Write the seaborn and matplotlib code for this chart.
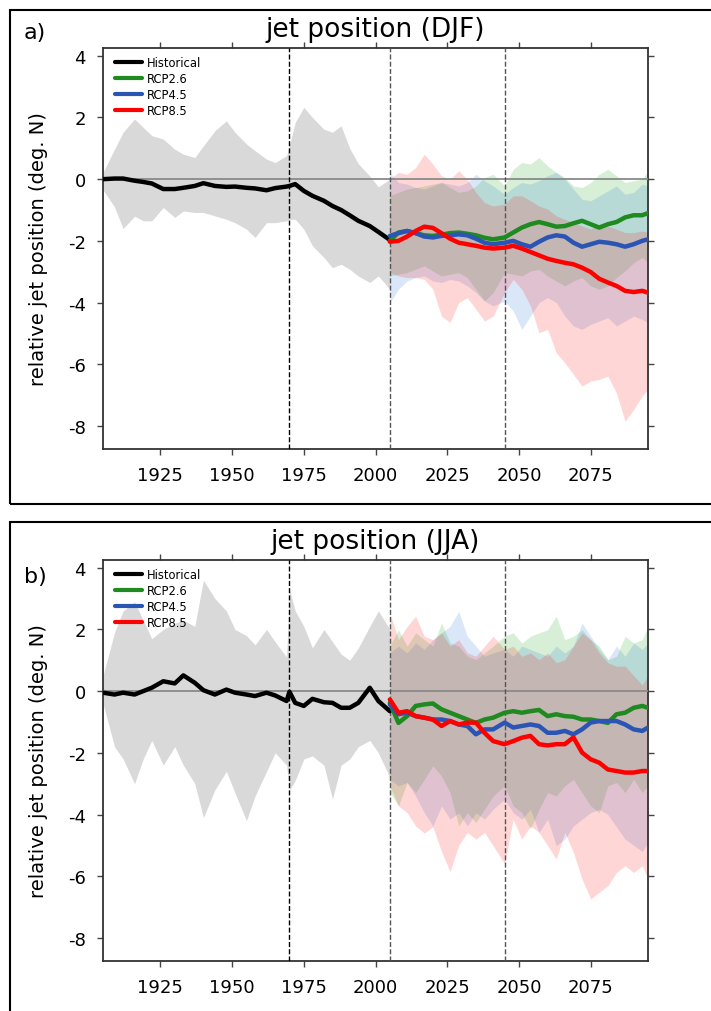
import matplotlib.pyplot as plt
from matplotlib.lines import Line2D
from matplotlib.patches import Rectangle
import seaborn as sns

# ==========================================
# DATA
# ==========================================
hist_years = [1905, 1909, 1912, 1916, 1919, 1922, 1926, 1930, 1933, 1937,
              1940, 1944, 1948, 1951, 1955, 1958, 1962, 1965, 1969, 1970,
              1972, 1975, 1978, 1982, 1985, 1988, 1991, 1994, 1998, 2001, 2005]

scen_years = [2005, 2008, 2011, 2014, 2017, 2020, 2023, 2026, 2029, 2032,
              2035, 2038, 2041, 2045, 2048, 2051, 2054, 2057, 2060, 2063,
              2066, 2069, 2072, 2075, 2078, 2081, 2084, 2087, 2090, 2093, 2095]

# --- DJF ---
djf_hist = [0.0, 0.02, 0.02, -0.05, -0.09, -0.14, -0.32, -0.32, -0.28, -0.22,
            -0.13, -0.22, -0.25, -0.24, -0.28, -0.30, -0.36, -0.29, -0.24, -0.22,
            -0.16, -0.38, -0.54, -0.70, -0.87, -1.00, -1.17, -1.35, -1.52, -1.71, -1.97]
djf_hist_hi = [0.22, 0.97, 1.52, 1.95, 1.68, 1.41, 1.30, 0.97, 0.81, 0.70,
               1.08, 1.57, 1.89, 1.52, 1.14, 0.92, 0.65, 0.54, 0.76, 1.10,
               1.84, 2.33, 2.00, 1.62, 1.52, 1.73, 1.00, 0.50, 0.10, -0.25, 0.0]
djf_hist_lo = [-0.35, -0.90, -1.60, -1.20, -1.35, -1.35, -0.92, -1.24, -1.03, -1.08,
               -1.08, -1.19, -1.30, -1.41, -1.62, -1.89, -1.41, -1.41, -1.35, -1.30,
               -1.30, -1.62, -2.16, -2.54, -2.87, -2.76, -2.92, -3.14, -3.35, -3.14, -3.57]

djf_rcp26 = [-2.00, -1.73, -1.68, -1.75, -1.82, -1.84, -1.80, -1.75, -1.73, -1.77,
             -1.82, -1.90, -1.95, -1.89, -1.73, -1.57, -1.46, -1.39, -1.46, -1.54,
             -1.52, -1.43, -1.35, -1.46, -1.57, -1.46, -1.39, -1.24, -1.17, -1.17, -1.10]
djf_rcp45 = [-1.84, -1.75, -1.68, -1.75, -1.86, -1.89, -1.84, -1.82, -1.79, -1.82,
             -1.93, -2.06, -2.11, -2.06, -2.00, -2.11, -2.19, -2.03, -1.89, -1.82,
             -1.86, -2.06, -2.19, -2.11, -2.03, -2.06, -2.11, -2.19, -2.11, -2.00, -1.95]
djf_rcp85 = [-2.03, -2.00, -1.86, -1.68, -1.54, -1.58, -1.75, -1.93, -2.06, -2.11,
             -2.16, -2.22, -2.25, -2.22, -2.16, -2.25, -2.36, -2.47, -2.58, -2.65,
             -2.71, -2.76, -2.87, -3.01, -3.23, -3.35, -3.46, -3.62, -3.66, -3.62, -3.68]

djf_rcp26_hi = [-0.54, -0.43, -0.32, -0.27, -0.22, -0.16, -0.11, -0.27, -0.43, -0.38,
                -0.22, 0.05, 0.16, -0.22, 0.32, 0.54, 0.49, 0.70, 0.43, 0.22,
                0.05, -0.22, -0.27, -0.11, 0.16, 0.32, 0.11, -0.11, -0.05, 0.00, 0.27]
djf_rcp45_hi = [0.22, -0.11, -0.16, -0.27, -0.32, -0.22, -0.11, -0.16, -0.22, -0.11,
                0.16, -0.05, -0.22, -0.49, -0.27, -0.11, -0.16, -0.05, 0.11, 0.22,
                0.00, -0.32, -0.65, -0.70, -0.54, -0.38, -0.22, -0.49, -0.43, -0.16, -0.22]
djf_rcp85_hi = [0.00, 0.22, 0.16, 0.38, 0.81, 0.49, 0.11, 0.00, 0.27, 0.00,
                -0.43, -0.76, -0.87, -0.81, -0.54, -0.54, -0.70, -0.87, -0.97, -1.19,
                -1.30, -1.41, -1.52, -1.62, -1.46, -1.52, -1.62, -1.73, -1.73, -1.68, -1.73]

djf_rcp26_lo = [-3.14, -3.08, -3.03, -2.92, -2.81, -2.98, -3.14, -3.08, -3.03, -3.19,
                -3.57, -3.95, -3.68, -3.03, -3.08, -3.14, -2.98, -2.92, -3.14, -3.30,
                -3.46, -3.30, -3.19, -3.46, -3.57, -3.46, -3.19, -2.98, -2.71, -2.54, -2.71]
djf_rcp45_lo = [-4.00, -3.57, -3.30, -3.19, -3.14, -3.30, -3.35, -3.25, -3.30, -3.46,
                -3.68, -3.95, -4.11, -3.95, -4.27, -4.87, -4.44, -4.00, -3.84, -4.00,
                -4.44, -4.76, -4.87, -4.71, -4.60, -4.49, -4.76, -4.60, -4.44, -4.55, -4.65]
djf_rcp85_lo = [-3.03, -3.14, -3.19, -3.19, -3.25, -3.57, -4.44, -4.65, -4.00, -3.84,
                -4.22, -4.60, -4.44, -3.68, -3.25, -3.57, -4.11, -4.98, -4.87, -5.63,
                -5.95, -6.33, -6.71, -6.55, -6.49, -6.39, -6.93, -7.85, -7.47, -7.03, -6.82]

# --- JJA ---
jja_hist = [-0.05, -0.11, -0.05, -0.11, 0.0, 0.11, 0.32, 0.25, 0.51, 0.27,
            0.03, -0.11, 0.05, -0.05, -0.11, -0.16, -0.05, -0.14, -0.32, -0.02,
            -0.38, -0.48, -0.25, -0.36, -0.38, -0.54, -0.54, -0.38, 0.11, -0.32, -0.65]
jja_hist_hi = [0.5, 1.9, 2.6, 2.9, 2.3, 1.7, 2.0, 2.2, 2.3, 2.1,
               3.6, 3.0, 2.6, 2.0, 1.8, 1.5, 2.0, 1.6, 1.1, 3.3,
               2.6, 2.1, 1.4, 2.0, 1.6, 1.2, 1.0, 1.4, 2.1, 2.6, 2.0]
jja_hist_lo = [-0.4, -1.8, -2.2, -3.0, -2.2, -1.6, -2.4, -1.8, -2.4, -3.0,
               -4.1, -3.2, -2.6, -3.3, -4.2, -3.4, -2.6, -2.0, -2.4, -3.2,
               -2.9, -2.2, -2.1, -2.4, -3.5, -2.4, -2.2, -1.8, -1.6, -2.0, -2.8]

jja_rcp26 = [-0.38, -1.03, -0.81, -0.48, -0.43, -0.40, -0.59, -0.70, -0.81, -0.92,
             -1.03, -0.92, -0.86, -0.70, -0.65, -0.70, -0.65, -0.61, -0.81, -0.75,
             -0.81, -0.83, -0.92, -0.92, -0.97, -1.03, -0.75, -0.70, -0.54, -0.48, -0.54]
jja_rcp45 = [-0.43, -0.75, -0.70, -0.81, -0.86, -0.92, -0.92, -0.97, -1.08, -1.13,
             -1.40, -1.24, -1.24, -1.02, -1.18, -1.13, -1.08, -1.13, -1.35, -1.35,
             -1.29, -1.40, -1.24, -1.02, -0.97, -0.97, -0.97, -1.08, -1.24, -1.29, -1.18]
jja_rcp85 = [-0.27, -0.70, -0.65, -0.81, -0.86, -0.92, -1.13, -0.97, -1.08, -1.02,
             -1.02, -1.35, -1.62, -1.72, -1.62, -1.51, -1.45, -1.72, -1.76, -1.72,
             -1.72, -1.50, -1.99, -2.21, -2.32, -2.54, -2.59, -2.64, -2.64, -2.59, -2.59]

jja_rcp26_hi = [1.46, 1.99, 1.46, 1.89, 1.67, 1.46, 2.21, 1.56, 1.46, 1.13,
                1.02, 1.24, 1.46, 1.78, 1.89, 1.56, 1.78, 1.89, 1.99, 2.43,
                1.67, 1.78, 1.99, 1.67, 1.46, 1.02, 1.13, 1.78, 1.56, 1.67, 2.10]
jja_rcp45_hi = [1.24, 1.46, 1.24, 1.56, 1.35, 1.67, 1.89, 2.10, 2.59, 1.78,
                1.46, 1.13, 1.24, 1.35, 1.13, 1.46, 1.35, 1.24, 1.13, 1.46,
                1.24, 1.46, 2.21, 1.78, 1.35, 1.02, 1.46, 1.13, 1.56, 1.35, 1.56]
jja_rcp85_hi = [2.53, 1.67, 2.10, 2.43, 1.78, 1.67, 1.89, 1.46, 1.67, 1.24,
                1.13, 1.46, 1.78, 1.35, 1.46, 1.13, 1.24, 1.02, 1.24, 0.92,
                1.02, 1.46, 1.89, 1.67, 1.24, 0.92, 0.81, 0.81, 0.50, 0.20, 0.50]

jja_rcp26_lo = [-3.29, -3.72, -2.96, -3.29, -2.86, -2.42, -2.75, -3.29, -4.37, -3.94,
                -4.26, -3.83, -3.40, -3.07, -3.72, -3.94, -4.47, -3.83, -3.29, -3.40,
                -3.07, -2.86, -3.29, -3.72, -3.94, -3.07, -2.96, -3.29, -2.86, -3.29, -3.07]
jja_rcp45_lo = [-2.86, -3.07, -2.96, -3.40, -3.94, -4.37, -3.72, -4.15, -3.94, -4.37,
                -3.94, -4.15, -3.83, -3.51, -3.94, -4.15, -3.83, -4.58, -4.15, -5.01,
                -4.80, -4.37, -4.15, -3.94, -3.83, -4.00, -4.40, -4.80, -5.00, -5.20, -4.90]
jja_rcp85_lo = [-3.07, -3.72, -3.94, -4.37, -4.60, -4.40, -5.20, -5.85, -5.00, -4.58,
                -4.80, -4.58, -5.01, -5.60, -4.15, -4.80, -4.37, -4.58, -5.01, -5.44,
                -4.58, -5.23, -6.09, -6.74, -6.52, -6.31, -5.88, -5.66, -5.88, -5.66, -6.09]

labels = ['Historical', 'RCP2.6', 'RCP4.5', 'RCP8.5']
line_colors = ['black', '#1f8a1f', '#2a55b5', '#ff0000']
shade_colors = ['#00a000', '#1e6edc', '#ff0000']
HIST_SHADE = '#d9d9d9'

xticks = [1925, 1950, 1975, 2000, 2025, 2050, 2075]
yticks = [4, 2, 0, -2, -4, -6, -8]
period_lines = [1970, 2005, 2045]


def set_plot_style():
	sns.set_style("ticks")
	plt.rcParams.update({
		'text.color': 'black', 'axes.labelcolor': 'black',
		'xtick.labelcolor': 'black', 'ytick.labelcolor': 'black',
		'axes.unicode_minus': False,
	})
	plt.rcParams['font.family'] = ['DejaVu Sans']


def draw_panel(ax, title, hist, hist_lo, hist_hi, scen):
	# spread of the ensemble
	ax.fill_between(hist_years, hist_lo, hist_hi, color=HIST_SHADE, lw=0, zorder=1)
	for (mid, lo, hi), c in zip(scen, shade_colors):
		ax.fill_between(scen_years, lo, hi, color=c, alpha=0.16, lw=0, zorder=2)

	ax.axhline(0, color='#8a8a8a', lw=1.3, zorder=3)
	for yr in period_lines:
		col = 'black' if yr < 2000 else '#555555'
		ax.axvline(yr, color=col, lw=1.0, ls=(0, (3.6, 1.6)), zorder=3)

	# ensemble means
	sns.lineplot(x=hist_years, y=hist, color=line_colors[0], lw=3.2, ax=ax, zorder=5)
	for (mid, lo, hi), c in zip(scen, line_colors[1:]):
		sns.lineplot(x=scen_years, y=mid, color=c, lw=3.2, ax=ax, zorder=5)

	ax.set_xlim(1905, 2095)
	ax.set_ylim(-8.75, 4.25)
	ax.set_xticks(xticks)
	ax.set_yticks(yticks)
	ax.tick_params(direction='out', top=True, right=True, labeltop=False, labelright=False,
				   length=4.3, width=1.0, color='#444444', labelsize=13, pad=8)
	for sp in ax.spines.values():
		sp.set_color('#333333')
		sp.set_linewidth(1.3)

	ax.set_title(title, fontsize=19, pad=9)
	ax.set_xlabel('')
	ax.set_ylabel('relative jet position (deg. N)', fontsize=14)
	ax.yaxis.set_label_coords(-0.101, 0.5)

	handles = [Line2D([], [], color=c, lw=3) for c in line_colors]
	ax.legend(handles, labels, loc='upper left', bbox_to_anchor=(0.017, 0.985),
			  frameon=False, fontsize=8.3, handlelength=2.4, handletextpad=0.42,
			  labelspacing=0.25, borderaxespad=0.0, borderpad=0.2)


def main():
	set_plot_style()
	fig = plt.figure(figsize=(7.11, 10.12), dpi=100)

	ax_a = fig.add_axes([0.1449, 0.5553, 0.7665, 0.3962])
	ax_b = fig.add_axes([0.1449, 0.0494, 0.7665, 0.3962])

	draw_panel(ax_a, 'jet position (DJF)', djf_hist, djf_hist_lo, djf_hist_hi,
			   [(djf_rcp26, djf_rcp26_lo, djf_rcp26_hi),
				(djf_rcp45, djf_rcp45_lo, djf_rcp45_hi),
				(djf_rcp85, djf_rcp85_lo, djf_rcp85_hi)])
	draw_panel(ax_b, 'jet position (JJA)', jja_hist, jja_hist_lo, jja_hist_hi,
			   [(jja_rcp26, jja_rcp26_lo, jja_rcp26_hi),
				(jja_rcp45, jja_rcp45_lo, jja_rcp45_hi),
				(jja_rcp85, jja_rcp85_lo, jja_rcp85_hi)])

	# panel frames (run off the right / bottom edge as in the original)
	fig.add_artist(Rectangle((0.0141, 0.5010), 1.0, 0.4881, transform=fig.transFigure,
							 fill=False, ec='black', lw=1.5, clip_on=False))
	fig.add_artist(Rectangle((0.0141, -0.05), 1.0, 0.5332, transform=fig.transFigure,
							 fill=False, ec='black', lw=1.5, clip_on=False))

	fig.text(35 / 711, 1 - 33 / 1012, 'a)', fontsize=16, ha='center', va='center')
	fig.text(35 / 711, 1 - 577 / 1012, 'b)', fontsize=16, ha='center', va='center')

	fig.savefig('out.png', dpi=100)


if __name__ == "__main__":
	main()
